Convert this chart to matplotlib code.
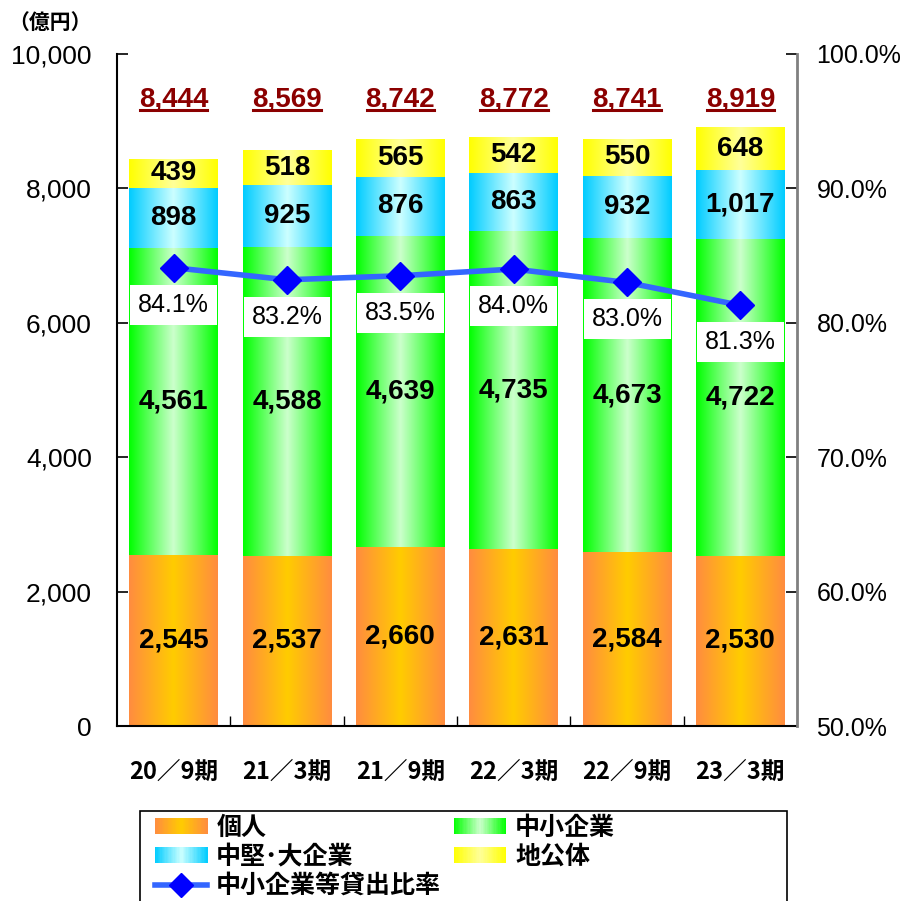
import numpy as np
import matplotlib
matplotlib.use("Agg")
import matplotlib.pyplot as plt
from matplotlib.colors import LinearSegmentedColormap
from matplotlib.patches import Rectangle
from matplotlib.lines import Line2D
from matplotlib.legend_handler import HandlerBase

plt.rcParams['font.family'] = ['Noto Sans CJK JP', 'DejaVu Sans']
NUMFONT = ['Liberation Sans', 'DejaVu Sans']

categories = ['20／9期', '21／3期', '21／9期', '22／3期', '22／9期', '23／3期']
kojin = [2545, 2537, 2660, 2631, 2584, 2530]
chusho = [4561, 4588, 4639, 4735, 4673, 4722]
chuken = [898, 925, 876, 863, 932, 1017]
chikoutai = [439, 518, 565, 542, 550, 648]
totals = [8444, 8569, 8742, 8772, 8741, 8919]
ratio = [84.1, 83.2, 83.5, 84.0, 83.0, 81.3]

series_names = ['個人', '中小企業', '中堅･大企業', '地公体']
line_name = '中小企業等貸出比率'

grad = {
    '個人': ['#FF8C40', '#FFCC00', '#FF8C40'],
    '中小企業': ['#00FF00', '#CCFFCC', '#00FF00'],
    '中堅･大企業': ['#00CCFF', '#CCFFFF', '#00CCFF'],
    '地公体': ['#FFFF00', '#FFFF99', '#FFFF00'],
}
cmaps = {k: LinearSegmentedColormap.from_list(k, v) for k, v in grad.items()}

fig = plt.figure(figsize=(9.04, 9.01), dpi=100)
ax = fig.add_axes([117/904, 1-726/901, (797-117)/904, (726-54)/901])
ax2 = ax.twinx()

x = np.arange(len(categories))
width = 0.78

gradimg = np.linspace(0, 1, 256).reshape(1, -1)
bottoms = np.zeros(len(categories))
for name, vals in zip(series_names, [kojin, chusho, chuken, chikoutai]):
    bars = ax.bar(x, vals, width, bottom=bottoms, facecolor='none', edgecolor='none', zorder=2)
    for b, v, bt in zip(bars, vals, bottoms):
        x0, y0 = b.get_x(), b.get_y()
        im = ax.imshow(gradimg, cmap=cmaps[name], extent=(x0, x0+b.get_width(), y0, y0+b.get_height()),
                       aspect='auto', zorder=1, interpolation='bilinear')
        im.set_clip_path(b)
        ax.text(b.get_x()+b.get_width()/2, bt+v/2, f'{v:,}', ha='center', va='center',
                fontsize=20, fontweight='bold', family=NUMFONT, color='black', zorder=5)
    bottoms = bottoms + np.array(vals)

ax.set_aspect('auto')
ax.set_xlim(-0.5, len(categories)-0.5)
ax.set_ylim(0, 10000)
ax2.set_ylim(50, 100)

# totals
total_texts = []
for xi, t in zip(x, totals):
    tt = ax.text(xi, 9330, f'{t:,}', ha='center', va='center', fontsize=20,
                 fontweight='bold', family=NUMFONT, color='#8B0000', zorder=5)
    total_texts.append(tt)

# line
ax2.plot(x, ratio, color='#3366FF', lw=4, zorder=6)
ax2.plot(x, ratio, ls='none', marker='D', ms=14, color='#0000FF', zorder=7)
for xi, r in zip(x, ratio):
    ax2.annotate(f'{r:.1f}%', (xi, r), xytext=(0, -26.5), textcoords='offset points',
                 ha='center', va='center', fontsize=18, family=NUMFONT, color='black', zorder=8,
                 bbox=dict(boxstyle='square,pad=0.32', fc='white', ec='none'))

ax.set_zorder(1)
ax2.set_zorder(2)
ax2.patch.set_visible(False)

# ticks
ax.set_yticks(np.arange(0, 10001, 2000))
ax.set_yticklabels([f'{v:,}' for v in range(0, 10001, 2000)], family=NUMFONT)
ax.tick_params(axis='y', direction='in', length=8, pad=18, labelsize=19, width=1.2)
ax2.set_yticks(np.arange(50, 101, 10))
ax2.set_yticklabels([f'{v:.1f}%' for v in range(50, 101, 10)], family=NUMFONT)
ax2.tick_params(axis='y', direction='in', length=8, pad=14, labelsize=18, width=1.2)
ax.set_xticks(x)
ax.set_xticklabels(categories, fontweight='bold')
ax.tick_params(axis='x', length=0, pad=24, labelsize=17)
ax.set_xticks(np.arange(0.5, len(categories)-1, 1), minor=True)
ax.tick_params(axis='x', which='minor', direction='in', length=7, width=1)
ax2.tick_params(axis='x', length=0)

for a in (ax, ax2):
    a.spines['top'].set_visible(False)
ax.spines['left'].set_linewidth(1.5)
ax.spines['bottom'].set_linewidth(1.5)
ax.spines['right'].set_visible(False)
ax2.spines['left'].set_visible(False)
ax2.spines['bottom'].set_visible(False)
ax2.spines['right'].set_color('#808080')
ax2.spines['right'].set_linewidth(2)

fig.text(8/904, 1-22/901, '（億円）', ha='left', va='center', fontsize=15, fontweight='bold')

# legend with gradient handles
class GradHandler(HandlerBase):
    def __init__(self, colors):
        super().__init__()
        self.cmap = LinearSegmentedColormap.from_list('h', colors)
    def create_artists(self, legend, orig_handle, xdescent, ydescent, width, height, fontsize, trans):
        n = 40
        arts = []
        for i in range(n):
            c = self.cmap((i+0.5)/n)
            r = Rectangle((-xdescent + width*i/n, -ydescent), width/n*1.05, height,
                          facecolor=c, edgecolor='none', transform=trans)
            arts.append(r)
        return arts

hdl = {name: Rectangle((0, 0), 1, 1, label=name) for name in series_names}
line_h = Line2D([], [], color='#3366FF', lw=4, marker='D', ms=12, mfc='#0000FF', mec='#0000FF', label=line_name)
handles = [hdl['個人'], hdl['中堅･大企業'], line_h, hdl['中小企業'], hdl['地公体']]
labels = ['個人', '中堅･大企業', line_name, '中小企業', '地公体']
hmap = {hdl[n]: GradHandler(grad[n]) for n in series_names}
leg = fig.legend(handles, labels, handler_map=hmap, ncol=2, loc='upper left',
                 bbox_to_anchor=(155/904, 1-816/901), frameon=False,
                 prop={'weight': 'bold', 'size': 18},
                 handlelength=2.1, handleheight=0.6, labelspacing=0.2, columnspacing=0.5,
                 borderpad=0.0, handletextpad=0.35, borderaxespad=0)

# manual legend frame
fig.add_artist(Rectangle((140/904, 1-905/901), (787-140)/904, (905-811)/901,
                         transform=fig.transFigure, facecolor='none', edgecolor='black', lw=1.2))

# underline totals
fig.canvas.draw()
renderer = fig.canvas.get_renderer()
for tt in total_texts:
    bb = tt.get_window_extent(renderer)
    yy = bb.y0 + 2
    fig.add_artist(Line2D([bb.x0 + 1, bb.x1 - 1], [yy, yy], transform=None, color='#8B0000', lw=2.2))

fig.savefig('out.png', dpi=100)
